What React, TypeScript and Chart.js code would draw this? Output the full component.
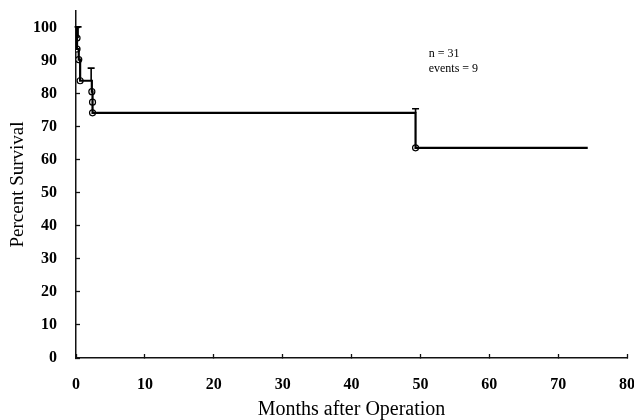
import React, { useEffect, useRef } from "react";
import { Chart, registerables } from "chart.js";

Chart.register(...registerables);

// Kaplan-Meier step curve (months, percent survival)
const stepMonths = [0, 0.15, 0.15, 0.4, 0.6, 2.3, 2.4, 2.4, 49.3, 74.3];
const stepSurvival = [100, 96.8, 93.5, 90.3, 83.9, 80.6, 77.4, 74.2, 63.6, 63.6];

// open-circle event markers
const markerMonths = [0.15, 0.15, 0.4, 0.6, 2.3, 2.4, 2.4, 49.3];
const markerSurvival = [96.8, 93.5, 90.3, 83.9, 80.6, 77.4, 74.2, 63.6];

// upper standard-error bars
const errMonths = [0.3, 2.2, 49.3];
const errLow = [96.8, 83.9, 74.2];
const errHigh = [100.2, 87.7, 75.4];

const xTicks = [0, 10, 20, 30, 40, 50, 60, 70, 80];
const yTicks = [0, 10, 20, 30, 40, 50, 60, 70, 80, 90, 100];

const annotationLines = ["n = 31", "events = 9"];
const annotationMonth = 51.2;
const annotationValues = [92, 87.5];

const errorBarPlugin = {
  id: "errorBars",
  afterDatasetsDraw(chart: any) {
    const { ctx, scales } = chart;
    const xs = scales.x;
    const ys = scales.y;
    ctx.save();
    ctx.strokeStyle = "#000";
    ctx.lineWidth = 1.6;
    for (let i = 0; i < errMonths.length; i++) {
      const x = xs.getPixelForValue(errMonths[i]);
      const y1 = ys.getPixelForValue(errLow[i]);
      const y2 = ys.getPixelForValue(errHigh[i]);
      ctx.beginPath();
      ctx.moveTo(x, y1);
      ctx.lineTo(x, y2);
      ctx.moveTo(x - 3.5, y2);
      ctx.lineTo(x + 3.5, y2);
      ctx.stroke();
    }
    ctx.fillStyle = "#000";
    ctx.font = "12px 'Liberation Serif', serif";
    ctx.textAlign = "left";
    ctx.textBaseline = "middle";
    for (let i = 0; i < annotationLines.length; i++) {
      ctx.fillText(
        annotationLines[i],
        xs.getPixelForValue(annotationMonth),
        ys.getPixelForValue(annotationValues[i])
      );
    }
    ctx.restore();
  },
};

export default function App() {
  const ref = useRef<HTMLCanvasElement | null>(null);
  useEffect(() => {
    if (!ref.current) return;
    const tickFont = { family: "'Liberation Serif', serif", size: 16, weight: "bold" as const };
    const chart = new Chart(ref.current, {
      type: "line",
      data: {
        datasets: [
          {
            data: stepMonths.map((m, i) => ({ x: m, y: stepSurvival[i] })),
            stepped: "before",
            borderColor: "#000",
            borderWidth: 2.2,
            pointRadius: 0,
            fill: false,
          },
          {
            data: markerMonths.map((m, i) => ({ x: m, y: markerSurvival[i] })),
            showLine: false,
            pointRadius: 3,
            pointBorderWidth: 1.2,
            pointBackgroundColor: "#fff",
            pointBorderColor: "#000",
          },
        ],
      },
      options: {
        responsive: false,
        animation: false,
        layout: { padding: { left: 0, right: 7, top: 11, bottom: 0 } },
        plugins: { legend: { display: false }, tooltip: { enabled: false } },
        scales: {
          x: {
            type: "linear",
            min: 0,
            max: 80,
            afterBuildTicks: (s: any) => {
              s.ticks = xTicks.map((v) => ({ value: v }));
            },
            afterFit: (s: any) => {
              s.height = 62;
              s.paddingLeft = 0;
              s.paddingRight = 0;
              s.paddingTop = 0;
              s.paddingBottom = 0;
            },
            ticks: { font: tickFont, color: "#000", padding: 21, maxRotation: 0, autoSkip: false },
            grid: {
              drawOnChartArea: false,
              drawTicks: true,
              tickLength: -4,
              color: "#111",
              tickWidth: 1.3,
            },
            border: { display: true, color: "#111", width: 1.5 },
            title: {
              display: true,
              text: "Months after Operation",
              font: { family: "'Liberation Serif', serif", size: 20, weight: "normal", lineHeight: 1.0 },
              color: "#000",
              padding: { top: 0, bottom: 0 },
            },
          },
          y: {
            type: "linear",
            min: 0,
            max: 105,
            afterBuildTicks: (s: any) => {
              s.ticks = yTicks.map((v) => ({ value: v }));
            },
            afterFit: (s: any) => {
              s.width = 76;
              s.paddingLeft = 0;
              s.paddingRight = 0;
              s.paddingTop = 0;
              s.paddingBottom = 0;
            },
            ticks: { font: tickFont, color: "#000", padding: 23, autoSkip: false },
            grid: {
              drawOnChartArea: false,
              drawTicks: true,
              tickLength: -4,
              color: "#111",
              tickWidth: 1.3,
            },
            border: { display: true, color: "#111", width: 1.5 },
            title: {
              display: true,
              text: "Percent Survival",
              font: { family: "'Liberation Serif', serif", size: 19, weight: "normal" },
              color: "#000",
              padding: { top: 7, bottom: 0 },
            },
          },
        },
      },
      plugins: [errorBarPlugin],
    });
    return () => chart.destroy();
  }, []);
  return (
    <div style={{ position: "fixed", left: 0, top: 0, width: 634, height: 420, background: "#fff" }}>
      <canvas ref={ref} width={634} height={420} />
    </div>
  );
}
